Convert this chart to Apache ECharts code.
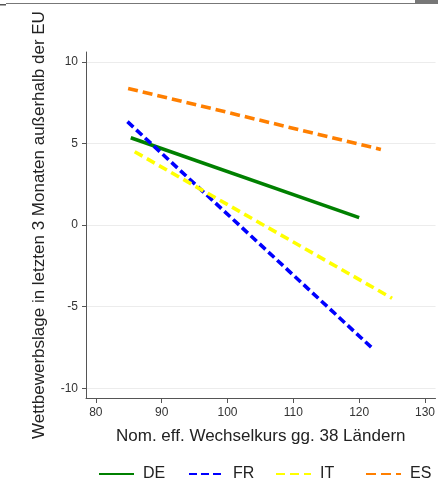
<!DOCTYPE html>
<html>
<head>
<meta charset="utf-8">
<script src="https://cdn.jsdelivr.net/npm/echarts@6/dist/echarts.min.js"></script>
<style>
  html, body { margin: 0; padding: 0; background: #fff; }
  #chart { width: 438px; height: 481px; }
</style>
</head>
<body>
<div id="chart"></div>
<script>
// tick values
const xTicks = [80, 90, 100, 110, 120, 130];
const yTicks = [-10, -5, 0, 5, 10];

// fitted lines: [exchange rate, competitive position]
const deLine = [[85.3, 5.35], [120, 0.45]];
const frLine = [[84.8, 6.33], [122, -7.55]];
const itLine = [[85.9, 4.49], [125, -4.49]];
const esLine = [[84.9, 8.37], [123.3, 4.63]];

const names = ['DE', 'FR', 'IT', 'ES'];
// legend columns (fixed width, like the original)
const legendLeft = [98, 188, 275, 365];

const chart = echarts.init(document.getElementById('chart'), null, { renderer: 'canvas' });

const font = 'Liberation Sans, Arial, sans-serif';

function lineSeries(name, data, color, dash) {
  return {
    name: name,
    type: 'line',
    data: data,
    symbol: 'none',
    itemStyle: { color: color },
    lineStyle: { color: color, width: 3.6, type: dash, cap: 'butt' },
    z: 3,
  };
}

chart.setOption({
  animation: false,
  backgroundColor: '#fff',
  textStyle: { fontFamily: font },
  graphic: [
    { type: 'rect', shape: { x: 6, y: 3, width: 410, height: 1 }, style: { fill: '#777' } },
    { type: 'rect', shape: { x: 415, y: 0, width: 23, height: 4 }, style: { fill: '#777' } },
    { type: 'rect', shape: { x: 0, y: 4, width: 6, height: 1.5 }, style: { fill: '#555' } },
  ],
  grid: { left: 86, top: 52, width: 354, height: 346, containLabel: false },
  legend: names.map((n, i) => ({
    left: legendLeft[i],
    top: 466,
    padding: 0,
    itemWidth: 35,
    itemHeight: 14,
    itemStyle: { opacity: 0 },
    textStyle: { fontSize: 16, color: '#222', fontFamily: font, padding: [0, 0, 0, 4] },
    data: [n],
  })),
  xAxis: {
    type: 'value',
    min: 78.5,
    max: 131.6,
    name: 'Nom. eff. Wechselkurs gg. 38 Ländern',
    nameLocation: 'middle',
    nameGap: 30,
    nameTextStyle: { fontSize: 17, color: '#222', fontFamily: font },
    axisLine: { show: true, onZero: false, lineStyle: { color: '#555', width: 1 } },
    axisTick: { show: true, length: 5, lineStyle: { color: '#555' }, customValues: xTicks },
    axisLabel: { fontSize: 12, color: '#333', margin: 9, customValues: xTicks },
    splitLine: { show: false },
  },
  yAxis: {
    type: 'value',
    min: -10.6,
    max: 10.6,
    name: 'Wettbewerbslage in letzten 3 Monaten außerhalb der EU',
    nameLocation: 'middle',
    nameGap: 38,
    nameTextStyle: { fontSize: 17, color: '#222', fontFamily: font },
    axisLine: { show: true, onZero: false, lineStyle: { color: '#555', width: 1 } },
    axisTick: { show: true, length: 4, lineStyle: { color: '#555' }, customValues: yTicks },
    axisLabel: { fontSize: 12, color: '#333', margin: 8, customValues: yTicks },
    splitLine: { show: true, lineStyle: { color: '#ececec', width: 1 } },
  },
  series: [
    lineSeries('DE', deLine, '#008000', 'solid'),
    lineSeries('FR', frLine, '#0000ff', [8, 4]),
    lineSeries('IT', itLine, '#ffff00', [9, 5]),
    lineSeries('ES', esLine, '#ff7f00', [10, 5]),
  ],
});
</script>
</body>
</html>
